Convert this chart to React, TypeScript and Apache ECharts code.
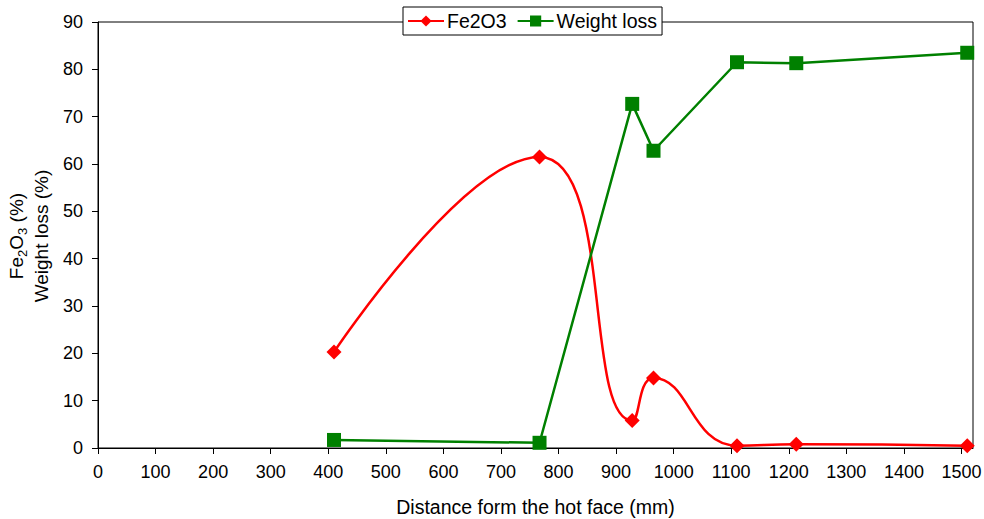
import React, { useEffect, useRef } from "react";
import * as echarts from "echarts";

const distance = [410, 767, 928, 965, 1110, 1213, 1510];
const fe2o3 = [20.3, 61.5, 5.8, 14.8, 0.5, 0.8, 0.5];
const weightLoss = [1.7, 1.1, 72.7, 62.8, 81.5, 81.3, 83.5];

const FONT = "'Liberation Sans', Arial, sans-serif";

export default function App() {
  const ref = useRef<HTMLDivElement>(null);
  useEffect(() => {
    const chart = echarts.init(ref.current!, null, { renderer: "svg" });
    chart.setOption({
      animation: false,
      backgroundColor: "#fff",
      grid: {
        left: 98,
        right: 11,
        top: 22,
        bottom: 71,
        show: true,
        borderColor: "#000",
        borderWidth: 1,
        containLabel: false,
        outerBoundsMode: "none",
      },
      legend: {
        top: 7,
        left: 403,
        backgroundColor: "#fff",
        borderColor: "#000",
        borderWidth: 1,
        padding: [4, 5, 4, 4],
        itemGap: 10,
        itemWidth: 36,
        itemHeight: 14,
        textStyle: { fontFamily: FONT, fontSize: 19.5, color: "#000", padding: [0, 0, 0, -2] },
        data: ["Fe2O3", "Weight loss"],
      },
      xAxis: {
        type: "value",
        min: 0,
        max: 1520,
        interval: 100,
        name: "Distance form the hot face (mm)",
        nameLocation: "middle",
        nameGap: 49,
        nameTextStyle: { fontFamily: FONT, fontSize: 19.5, color: "#000" },
        axisLine: { show: true, lineStyle: { color: "#000", width: 1 } },
        axisTick: { show: true, length: 6, lineStyle: { color: "#000" } },
        axisLabel: {
          fontFamily: FONT,
          fontSize: 18,
          color: "#000",
          margin: 15,
          showMaxLabel: false,
          formatter: (v: number) => String(v),
        },
        splitLine: { show: false },
      },
      yAxis: {
        type: "value",
        min: 0,
        max: 90,
        interval: 10,
        axisLine: { show: true, lineStyle: { color: "#000", width: 1 } },
        axisTick: { show: true, length: 6, lineStyle: { color: "#000" } },
        axisLabel: { fontFamily: FONT, fontSize: 18, color: "#000", margin: 15 },
        splitLine: { show: false },
      },
      graphic: [
        {
          type: "text",
          x: 28.5,
          y: 236,
          rotation: Math.PI / 2,
          style: {
            text: "{a|Fe}{s|2}{a|O}{s|3}{a| (%)}\n{a|Weight loss (%)}",
            align: "center",
            verticalAlign: "middle",
            fill: "#000",
            rich: {
              a: { fontFamily: FONT, fontSize: 19, lineHeight: 25, fill: "#000" },
              s: {
                fontFamily: FONT,
                fontSize: 13,
                lineHeight: 21,
                verticalAlign: "bottom",
                fill: "#000",
              },
            },
          },
        },
      ],
      series: [
        {
          name: "Fe2O3",
          type: "line",
          data: distance.map((d, i) => [d, fe2o3[i]]),
          smooth: 0.5,
          symbol: "diamond",
          symbolSize: 15,
          itemStyle: { color: "#FF0000" },
          lineStyle: { color: "#FF0000", width: 2.5 },
        },
        {
          name: "Weight loss",
          type: "line",
          data: distance.map((d, i) => [d, weightLoss[i]]),
          symbol: "rect",
          symbolSize: 14,
          itemStyle: { color: "#008000" },
          lineStyle: { color: "#008000", width: 2.5 },
        },
      ],
    });
    return () => chart.dispose();
  }, []);
  return <div ref={ref} style={{ width: 984, height: 519, position: "absolute", left: 0, top: 0 }} />;
}
